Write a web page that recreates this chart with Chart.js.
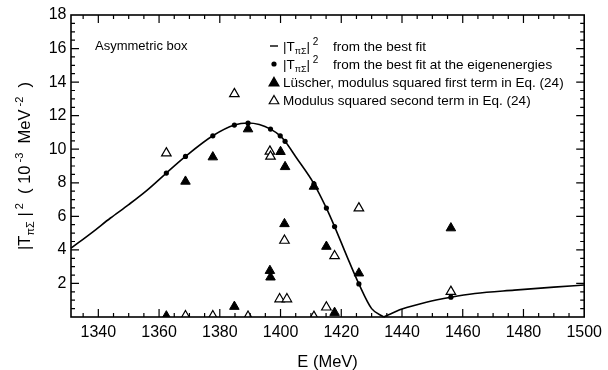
<!DOCTYPE html>
<html>
<head>
<meta charset="utf-8">
<script src="https://cdn.jsdelivr.net/npm/chart.js@4.4.1/dist/chart.umd.min.js"></script>
<style>
  body { margin: 0; background: #fff; }
</style>
</head>
<body>
<canvas id="ampChart" width="608" height="370"></canvas>
<script>
// |T_piSigma|^2 from the best fit (10^-3 MeV^-2), two branches meeting at the zero near 1434
const fitLeftE = [1331, 1338, 1344, 1350, 1356, 1362.4, 1368.7, 1377.7, 1384.8, 1389.3, 1393, 1396.7, 1399.9, 1401.5, 1405, 1411.0, 1415.1, 1417.8, 1421.9, 1425.8, 1430, 1434];
const fitLeftY = [4.10, 5.05, 5.90, 6.70, 7.55, 8.58, 9.57, 10.80, 11.44, 11.56, 11.47, 11.20, 10.80, 10.47, 9.55, 7.94, 6.49, 5.39, 3.60, 1.97, 0.50, 0.0];
const fitRightE = [1434, 1440, 1448, 1456.1, 1464, 1477, 1490, 1500];
const fitRightY = [0.0, 0.47, 0.88, 1.18, 1.40, 1.60, 1.78, 1.91];

// best fit evaluated at the eigenenergies
const eigenE = [1362.4, 1368.7, 1377.7, 1384.8, 1389.3, 1396.7, 1399.9, 1401.5, 1411.0, 1415.1, 1417.8, 1425.8, 1456.1];
const eigenY = [8.58, 9.57, 10.80, 11.44, 11.56, 11.20, 10.80, 10.47, 7.94, 6.49, 5.39, 1.97, 1.18];

// Lüscher, first term
const firstE = [1362.4, 1368.7, 1377.7, 1384.8, 1389.3, 1396.5, 1396.7, 1400.0, 1401.5, 1401.3, 1411.0, 1415.1, 1417.8, 1425.8, 1456.1];
const firstY = [0.05, 8.08, 9.53, 0.62, 11.2, 2.76, 2.37, 9.85, 8.95, 5.55, 7.78, 4.20, 0.26, 2.61, 5.30];

// second term
const secondE = [1362.4, 1368.7, 1377.7, 1384.8, 1389.3, 1396.5, 1396.7, 1401.3, 1399.7, 1402.1, 1411.0, 1415.1, 1417.8, 1425.8, 1456.1];
const secondY = [9.77, 0.06, 0.06, 13.3, 0.03, 9.87, 9.57, 4.56, 1.07, 1.07, 0.02, 0.58, 3.64, 6.49, 1.51];

const xTicks = [1340, 1360, 1380, 1400, 1420, 1440, 1460, 1480, 1500];
const yTicks = [2, 4, 6, 8, 10, 12, 14, 16, 18];

const FONT = '"Liberation Sans", Arial, Helvetica, sans-serif';

function toPoints(xs, ys) {
  return xs.map((x, i) => ({ x: x, y: ys[i] }));
}

// text pieces: [text, size, shift]
function runsWidth(ctx, runs) {
  let w = 0;
  runs.forEach(r => { ctx.font = r[1] + 'px ' + FONT; w += ctx.measureText(r[0]).width; });
  return w;
}
function drawRuns(ctx, runs, x, y) {
  runs.forEach(r => {
    ctx.font = r[1] + 'px ' + FONT;
    ctx.fillText(r[0], x, y + r[2]);
    x += ctx.measureText(r[0]).width;
  });
  return x;
}

const framePlugin = {
  id: 'frame',
  afterDatasetsDraw(chart) {
    const ctx = chart.ctx, a = chart.chartArea;
    const xs = chart.scales.x, ys = chart.scales.y;
    ctx.save();
    ctx.strokeStyle = '#000';
    ctx.lineWidth = 1.2;
    ctx.beginPath();
    for (let v = 1335; v < 1500; v += 5) {
      const px = xs.getPixelForValue(v);
      const len = v % 20 === 0 ? 8 : 4;
      ctx.moveTo(px, a.bottom); ctx.lineTo(px, a.bottom - len);
      ctx.moveTo(px, a.top); ctx.lineTo(px, a.top + len);
    }
    for (let v = 0.5; v < 18; v += 0.5) {
      const py = ys.getPixelForValue(v);
      const len = v % 2 === 0 ? 8 : 4;
      ctx.moveTo(a.left, py); ctx.lineTo(a.left + len, py);
      ctx.moveTo(a.right, py); ctx.lineTo(a.right - len, py);
    }
    ctx.stroke();
    ctx.lineWidth = 1.6;
    ctx.strokeRect(a.left, a.top, a.right - a.left, a.bottom - a.top);

    // key
    ctx.fillStyle = '#000';
    ctx.textBaseline = 'alphabetic';
    ctx.font = '13px ' + FONT;
    ctx.fillText('Asymmetric box', 95, 50);

    const sx = 274, tx = 283;
    const rows = [46, 64, 82, 100];
    ctx.lineWidth = 1.4;
    ctx.beginPath();
    ctx.moveTo(sx - 4, rows[0]); ctx.lineTo(sx + 4, rows[0]);
    ctx.stroke();
    ctx.beginPath();
    ctx.arc(sx, rows[1], 2.6, 0, Math.PI * 2);
    ctx.fill();
    Chart.helpers.drawPoint(ctx, { pointStyle: 'triangle', radius: 5.5, rotation: 0, borderWidth: 1 }, sx, rows[2] + 1);
    ctx.fillStyle = '#fff';
    ctx.lineWidth = 1.2;
    Chart.helpers.drawPoint(ctx, { pointStyle: 'triangle', radius: 5.5, rotation: 0, borderWidth: 1.2 }, sx, rows[3] + 1);
    ctx.fillStyle = '#000';

    const amp = [['|T', 13.5, 0], ['\u03c0\u03a3', 9, 3], ['|', 13.5, 0], [' 2', 10, -6]];
    drawRuns(ctx, amp, tx, rows[0] + 5);
    ctx.font = '13.5px ' + FONT;
    ctx.fillText('from the best fit', 333, rows[0] + 5);
    drawRuns(ctx, amp, tx, rows[1] + 5);
    ctx.font = '13.5px ' + FONT;
    ctx.fillText('from the best fit at the eigenenergies', 333, rows[1] + 5);
    ctx.fillText('L\u00fcscher, modulus squared first term in Eq. (24)', tx, rows[2] + 5);
    ctx.fillText('Modulus squared second term in Eq. (24)', tx, rows[3] + 5);

    // axis titles
    ctx.font = '16.5px ' + FONT;
    ctx.textAlign = 'center';
    ctx.textBaseline = 'middle';
    ctx.fillText('E (MeV)', (a.left + a.right) / 2, 362);

    const ytitle = [['|T', 16.5, 0], ['\u03c0\u03a3', 11, 4], [' |', 16.5, 0], [' 2', 11, -7],
      ['  ( 10', 16.5, 0], [' -3', 11, -7], ['  MeV', 16.5, 0], [' -2', 11, -7], ['  )', 16.5, 0]];
    ctx.textAlign = 'left';
    ctx.textBaseline = 'alphabetic';
    ctx.translate(24, (a.top + a.bottom) / 2);
    ctx.rotate(-Math.PI / 2);
    const w = runsWidth(ctx, ytitle);
    drawRuns(ctx, ytitle, -w / 2, 6);
    ctx.restore();
  }
};

const curveStyle = {
  showLine: true,
  borderColor: '#000',
  borderWidth: 1.6,
  pointRadius: 0,
  cubicInterpolationMode: 'monotone',
  clip: 2
};

const ctx = document.getElementById('ampChart').getContext('2d');
const chart = new Chart(ctx, {
  type: 'scatter',
  data: {
    datasets: [
      {
        label: 'eigenenergies',
        data: toPoints(eigenE, eigenY),
        pointRadius: 2.6,
        pointBackgroundColor: '#000',
        pointBorderWidth: 0,
        clip: 0
      },
      Object.assign({ label: 'best fit', data: toPoints(fitLeftE, fitLeftY) }, curveStyle),
      Object.assign({ label: 'best fit (upper)', data: toPoints(fitRightE, fitRightY) }, curveStyle),
      {
        label: 'first term',
        data: toPoints(firstE, firstY),
        pointStyle: 'triangle',
        pointRadius: 5.5,
        pointBackgroundColor: '#000',
        pointBorderColor: '#000',
        pointBorderWidth: 1,
        clip: 0
      },
      {
        label: 'second term',
        data: toPoints(secondE, secondY),
        pointStyle: 'triangle',
        pointRadius: 5.5,
        pointBackgroundColor: '#fff',
        pointBorderColor: '#000',
        pointBorderWidth: 1.2,
        clip: 0
      }
    ]
  },
  options: {
    responsive: false,
    animation: false,
    layout: { padding: { left: 0, right: 18, top: 15, bottom: 0 } },
    plugins: {
      legend: { display: false },
      tooltip: { enabled: false }
    },
    scales: {
      x: {
        type: 'linear',
        min: 1331,
        max: 1500,
        grid: { display: false, drawTicks: false },
        border: { display: false },
        afterBuildTicks: s => { s.ticks = xTicks.map(v => ({ value: v })); },
        afterFit: s => { s.height = 53; },
        ticks: {
          autoSkip: false,
          maxRotation: 0,
          padding: 6,
          color: '#000',
          font: { family: FONT, size: 16 },
          callback: v => String(v)
        }
      },
      y: {
        min: 0,
        max: 18,
        grid: { display: false, drawTicks: false },
        border: { display: false },
        afterBuildTicks: s => { s.ticks = yTicks.map(v => ({ value: v })); },
        afterFit: s => { s.width = 71; },
        ticks: {
          padding: 4.5,
          color: '#000',
          font: { family: FONT, size: 16 },
          callback: v => String(v)
        }
      }
    }
  },
  plugins: [framePlugin]
});
</script>
</body>
</html>
